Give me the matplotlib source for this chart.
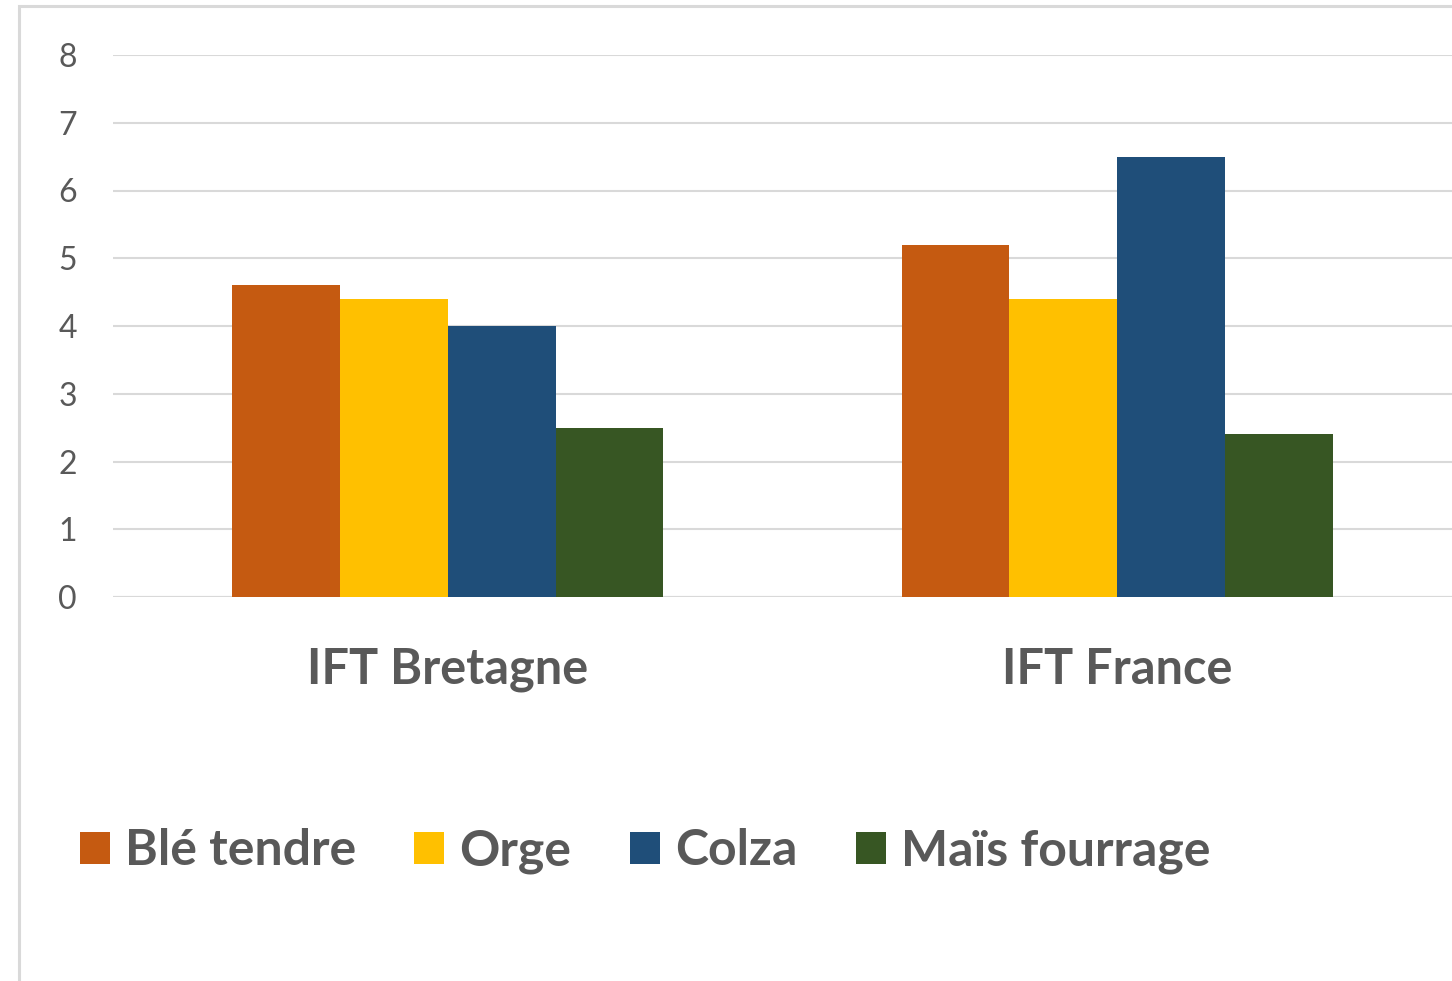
import matplotlib
matplotlib.use("Agg")
import matplotlib.pyplot as plt
from matplotlib.patches import Rectangle
import numpy as np

categories = ["IFT Bretagne", "IFT France"]
series_names = ["Blé tendre", "Orge", "Colza", "Maïs fourrage"]
ble_tendre = [4.6, 5.2]
orge = [4.4, 4.4]
colza = [4.0, 6.5]
mais_fourrage = [2.5, 2.4]
yticks = [0, 1, 2, 3, 4, 5, 6, 7, 8]

values = [ble_tendre, orge, colza, mais_fourrage]
colors = ["#C55A11", "#FFC000", "#1F4E79", "#375623"]
gray = "#595959"

W, H = 1452, 981
fig = plt.figure(figsize=(W / 100, H / 100), dpi=100)
fig.patch.set_facecolor("white")

# chart border (cropped at right/bottom)
fig.add_artist(Rectangle((19 / W, -0.05), 1.2, 1 - 6 / H + 0.05,
                         transform=fig.transFigure, fill=False,
                         edgecolor="#d9d9d9", linewidth=2.2))

ax = fig.add_axes([113 / W, 1 - 597 / H, (W - 113) / W, (597 - 55) / H])
x = np.arange(len(categories))
bw = 0.161
handles = []
for i, (name, vals, c) in enumerate(zip(series_names, values, colors)):
    h = ax.bar(x + (i - 1.5) * bw, vals, width=bw, color=c, label=name, zorder=3)
    handles.append(h)

ax.set_xlim(-0.5, 1.5)
ax.set_ylim(0, 8)
ax.set_yticks(yticks)
ax.set_yticklabels([str(t) for t in yticks], fontsize=23, color=gray, family="Lato")
ax.yaxis.grid(True, color="#d9d9d9", linewidth=1.5, zorder=0)
ax.set_axisbelow(True)
for s in ax.spines.values():
    s.set_visible(False)
ax.tick_params(axis="y", length=0, pad=26)
ax.tick_params(axis="x", length=0, pad=36)
ax.set_xticks(x)
ax.set_xticklabels(categories, fontsize=35, color=gray, family="Lato", fontweight="bold")
ax.axhline(0, color="#d9d9d9", linewidth=1.5, zorder=1)

leg = fig.legend(handles=handles, labels=series_names, loc="center",
                 bbox_to_anchor=(645 / W, 1 - 851 / H), ncol=4, frameon=False,
                 handlelength=0.6, handleheight=0.6, handletextpad=0.3,
                 columnspacing=1.17, borderpad=0,
                 prop={"family": "Lato", "weight": "bold", "size": 36})
for t in leg.get_texts():
    t.set_color(gray)

fig.savefig("out.png", dpi=100)
